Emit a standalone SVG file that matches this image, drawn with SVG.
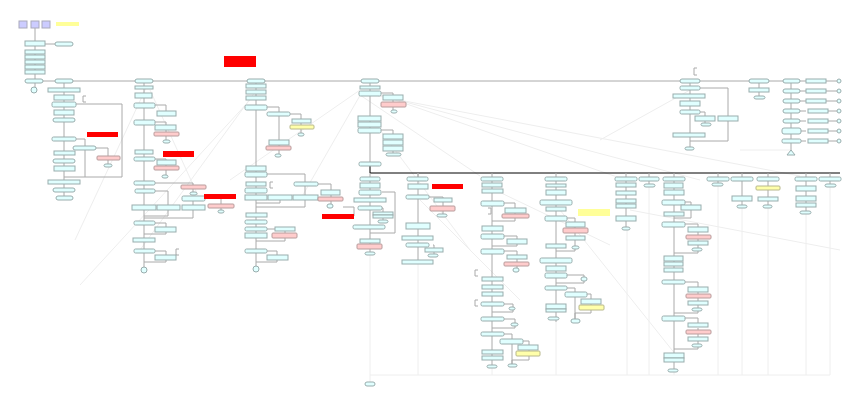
<svg xmlns="http://www.w3.org/2000/svg" width="863" height="419" viewBox="0 0 863 419">
<style>
rect,polygon,circle{stroke-width:1}
.b{fill:#e0ffff;stroke:#9aadad}
.o{fill:#e0ffff;stroke:#9aadad;rx:2px}
.h{fill:#e0ffff;stroke:#9aadad;rx:1.5px}
.p{fill:#ffcccc;stroke:#b89c9c;rx:1px}
.y{fill:#ffffaa;stroke:#b8b88c;rx:1px}
.r{fill:#ff0000}
.s{fill:#ccccff;stroke:#aab}
.c path{fill:none;stroke:#aaaaaa;stroke-width:1}
.c .f{stroke:#eeeeee}
.c .k{stroke:#000000}
</style>
<rect width="863" height="419" fill="#ffffff"/>
<g class="c">
<path class="f" d="M360,90L230,180M362,92L300,200M372,92L620,178M375,94L700,180M378,96L800,176M255,92L140,250M250,100L80,285M146,88L75,240M150,90L200,200M360,95L480,176M495,190L610,245M560,210L680,360M420,200L520,300M690,90L600,140M790,150L740,150M630,210L840,250M380,130L470,250"/>
<path class="f" d="M418,264V375M492,368V375M556,322V375M627,230V375M649,187V375M674,372V375M718,186V375M742,208V375M768,208V375M806,214V375M830,187V375M370,255V375H830M370,375V382"/>
<path d="M35,28V41M35,46V79M45,44H55M35,83V87M43,81H783"/>
<path d="M64,83V196M76,104H122V177H64M76,139H85V146M85,150V177M96,148H108V156M108,160V164"/>
<path d="M144,83V267M155,105H166V111M155,122H166V125M166,130V132M166,136V140M155,159H166V160M166,165V166M166,170V175M155,183H193V185M193,189V192M155,191H168V205M205,198H221V204M221,208V210M193,201V205M168,210V216H144M193,210V218H144M155,223H166V227M166,232V234H144M155,251H166V255M166,260V262H144"/>
<path d="M256,83V266M267,107H279V112M290,114H301V119M301,123V125M301,129V133M279,116V140M279,145V146M279,150V154M267,174H305V182M318,184H331V190M331,195V197M331,201V204M305,186V195M280,200V203H256M305,200V207H256M267,229H285V227M285,231V233M285,238V241H256M267,251H277V255M277,260V262H256M343,207H354V216"/>
<path d="M370,83V166M381,93H393V95M393,100V102M393,107V110M381,130H393V134M393,151V153"/>
<path class="k" d="M370,166V173H840"/>
<path d="M370,173V252M382,192H395V233H370M382,208H383V212M383,218V220M418,173V264M429,197H443V198M443,202V206M443,211V214M433,245H434V248M434,252V254M418,173V177"/>
<path d="M492,173V368M504,203H515V208M515,213V214M515,218V221H492M504,236H517V239M517,244V246H492M504,251H517V255M517,259V262M517,266V268M504,304H513V307M513,310V312H492M504,319H515V323M515,326V328H492M504,334H512V339M523,341H529V345M529,350V351M529,356V360H512V364M512,344V364"/>
<path d="M556,173V322M567,218H575V222M575,227V228M575,233V236M575,240V246M575,249V251H556M567,275H584V277M584,281V283H556M567,288H575V292M587,294H591V299M591,304V305M591,310V313H575V319M575,297V319"/>
<path d="M626,173V227M649,173V184M674,173V369M685,202H691V205M691,210V218H674M685,224H698V227M698,232V248M698,251V253H674M685,282H698V287M698,292V308M698,311V313H674M685,318H698V323M698,328V344M698,347V349H674M718,173V183M742,173V205M768,173V205M806,173V211M830,173V184"/>
<path d="M690,83V147M700,88H728V141H690M700,112H705V116M705,121V123M759,83V96M791,83V151M800,91H806M800,101H806M800,111H806M800,121H806M800,131H806M800,141H806M826,81H837M826,91H837M826,101H837M826,111H837M826,121H837M826,131H837M826,141H837M783,81H806"/>
<path d="M86,96H83V102H86M179,249H176V255H179M273,182H270V188H273M697,68H694V75H697M488,208H491V214H488M478,300H475V306H478M478,270H475V276H478"/>
</g>
<g id="top">
<rect class="s" x="19" y="21" width="8" height="7"/><rect class="s" x="31" y="21" width="8" height="7"/><rect class="s" x="42" y="21" width="8" height="7"/>
<rect x="56" y="22" width="23" height="4" fill="#ffff99"/>
<rect class="r" x="224" y="56" width="32" height="11"/>
</g>
<g id="stack">
<rect class="b" x="25" y="41" width="20" height="5"/><rect class="o" x="55" y="42" width="18" height="4"/>
<rect class="b" x="25" y="50" width="20" height="4"/><rect class="b" x="25" y="55" width="20" height="4"/><rect class="b" x="25" y="60" width="20" height="4"/><rect class="b" x="25" y="65" width="20" height="4"/><rect class="b" x="25" y="70" width="20" height="4"/>
<rect class="o" x="25" y="79" width="18" height="4"/><circle class="b" cx="34" cy="90" r="3"/>
</g>
<g id="col1">
<rect class="o" x="55" y="79" width="18" height="4"/><rect class="b" x="48" y="88" width="32" height="4"/><rect class="b" x="54" y="95" width="20" height="5"/><rect class="h" x="52" y="102" width="24" height="5"/><rect class="b" x="54" y="110" width="20" height="5"/><rect class="o" x="53" y="118" width="22" height="4"/><rect class="h" x="52" y="137" width="24" height="4"/><rect class="o" x="73" y="146" width="23" height="4"/><rect class="b" x="54" y="151" width="21" height="4"/><rect class="o" x="53" y="159" width="22" height="4"/><rect class="b" x="54" y="166" width="21" height="5"/><rect class="b" x="48" y="180" width="32" height="4"/><rect class="o" x="53" y="188" width="22" height="4"/><rect class="o" x="56" y="196" width="17" height="4"/>
<rect class="r" x="87" y="132" width="31" height="5"/><rect class="p" x="97" y="156" width="23" height="4"/><rect class="o" x="104" y="164" width="8" height="3"/>
</g>
<g id="col2">
<rect class="o" x="135" y="79" width="18" height="4"/><rect class="b" x="135" y="86" width="18" height="3"/><rect class="b" x="135" y="93" width="17" height="5"/><rect class="h" x="134" y="103" width="21" height="5"/><rect class="b" x="157" y="111" width="19" height="5"/><rect class="h" x="134" y="120" width="21" height="5"/><rect class="b" x="155" y="125" width="21" height="5"/><rect class="p" x="154" y="132" width="25" height="4"/><rect class="o" x="163" y="140" width="7" height="3"/><rect class="b" x="135" y="150" width="18" height="4"/><rect class="h" x="134" y="157" width="21" height="4"/><rect class="r" x="163" y="151" width="31" height="6"/><rect class="b" x="157" y="160" width="19" height="5"/><rect class="p" x="154" y="166" width="25" height="4"/><rect class="o" x="162" y="175" width="6" height="3"/><rect class="h" x="134" y="181" width="21" height="4"/><rect class="p" x="181" y="185" width="25" height="4"/><rect class="o" x="190" y="192" width="7" height="3"/><rect class="h" x="135" y="189" width="20" height="4"/><rect class="h" x="182" y="196" width="23" height="5"/><rect class="b" x="132" y="205" width="24" height="5"/><rect class="b" x="157" y="205" width="23" height="5"/><rect class="b" x="182" y="205" width="23" height="5"/><rect class="r" x="204" y="194" width="32" height="5"/><rect class="p" x="208" y="204" width="26" height="4"/><rect class="o" x="218" y="210" width="6" height="3"/><rect class="h" x="134" y="221" width="21" height="4"/><rect class="b" x="155" y="227" width="21" height="5"/><rect class="b" x="133" y="238" width="22" height="4"/><rect class="h" x="134" y="249" width="21" height="4"/><rect class="b" x="155" y="255" width="21" height="5"/><circle class="b" cx="144" cy="270" r="3"/>
</g>
<g id="col3">
<rect class="o" x="247" y="79" width="18" height="4"/><rect class="b" x="246" y="84" width="20" height="4"/><rect class="b" x="246" y="90" width="20" height="4"/><rect class="b" x="246" y="96" width="20" height="4"/><rect class="h" x="245" y="105" width="22" height="5"/><rect class="h" x="267" y="112" width="23" height="4"/><rect class="b" x="292" y="119" width="19" height="4"/><rect class="y" x="290" y="125" width="24" height="4"/><rect class="o" x="298" y="133" width="6" height="3"/><rect class="b" x="269" y="140" width="20" height="5"/><rect class="p" x="266" y="146" width="25" height="4"/><rect class="o" x="275" y="154" width="6" height="3"/><rect class="b" x="246" y="166" width="20" height="5"/><rect class="h" x="245" y="172" width="22" height="5"/><rect class="b" x="246" y="182" width="20" height="4"/><rect class="h" x="245" y="188" width="22" height="5"/><rect class="b" x="245" y="195" width="22" height="5"/><rect class="b" x="268" y="195" width="24" height="5"/><rect class="b" x="293" y="195" width="25" height="5"/><rect class="h" x="294" y="182" width="24" height="4"/><rect class="b" x="321" y="190" width="19" height="5"/><rect class="p" x="318" y="197" width="25" height="4"/><rect class="o" x="327" y="204" width="6" height="4"/><rect class="r" x="322" y="214" width="32" height="5"/><rect class="b" x="246" y="213" width="21" height="4"/><rect class="h" x="245" y="220" width="22" height="4"/><rect class="h" x="245" y="227" width="22" height="4"/><rect class="b" x="245" y="233" width="22" height="5"/><rect class="b" x="275" y="227" width="20" height="4"/><rect class="p" x="272" y="233" width="25" height="5"/><rect class="h" x="245" y="249" width="22" height="4"/><rect class="b" x="267" y="255" width="21" height="5"/><circle class="b" cx="256" cy="269" r="3"/>
</g>
<g id="col4">
<rect class="o" x="361" y="79" width="18" height="4"/><rect class="b" x="360" y="86" width="20" height="3"/><rect class="h" x="359" y="91" width="22" height="5"/><rect class="b" x="383" y="95" width="20" height="5"/><rect class="p" x="381" y="102" width="25" height="5"/><rect class="o" x="391" y="110" width="6" height="3"/><rect class="b" x="358" y="116" width="23" height="5"/><rect class="b" x="358" y="122" width="23" height="5"/><rect class="h" x="358" y="128" width="23" height="5"/><rect class="b" x="383" y="134" width="20" height="5"/><rect class="b" x="383" y="140" width="20" height="5"/><rect class="b" x="383" y="146" width="20" height="5"/><rect class="o" x="386" y="153" width="15" height="3"/><rect class="h" x="359" y="162" width="22" height="4"/>
</g>
<g id="col5">
<rect class="h" x="360" y="177" width="20" height="4"/><rect class="b" x="360" y="183" width="20" height="5"/><rect class="h" x="359" y="190" width="22" height="5"/><rect class="b" x="354" y="198" width="32" height="4"/><rect class="h" x="358" y="206" width="24" height="4"/><rect class="b" x="373" y="212" width="20" height="3"/><rect class="b" x="373" y="215" width="20" height="3"/><rect class="o" x="378" y="220" width="10" height="3"/><rect class="h" x="353" y="225" width="32" height="4"/><rect class="b" x="360" y="239" width="20" height="4"/><rect class="p" x="357" y="244" width="25" height="5"/><rect class="o" x="365" y="252" width="10" height="3"/>
</g>
<g id="col6">
<rect class="h" x="407" y="177" width="21" height="4"/><rect class="b" x="408" y="184" width="20" height="5"/><rect class="h" x="406" y="195" width="23" height="4"/><rect class="b" x="406" y="223" width="24" height="6"/><rect class="b" x="402" y="236" width="31" height="4"/><rect class="h" x="406" y="243" width="23" height="4"/><rect class="b" x="425" y="248" width="18" height="4"/><rect class="o" x="428" y="254" width="10" height="3"/><rect class="b" x="402" y="260" width="31" height="4"/><rect class="r" x="432" y="184" width="31" height="5"/><rect class="b" x="434" y="198" width="18" height="4"/><rect class="p" x="430" y="206" width="25" height="5"/><rect class="o" x="437" y="214" width="10" height="3"/>
</g>
<g id="col7">
<rect class="h" x="481" y="177" width="22" height="4"/><rect class="b" x="482" y="183" width="20" height="4"/><rect class="b" x="482" y="189" width="21" height="4"/><rect class="h" x="481" y="201" width="23" height="5"/><rect class="b" x="505" y="208" width="21" height="5"/><rect class="p" x="502" y="214" width="27" height="4"/><rect class="b" x="482" y="226" width="21" height="5"/><rect class="h" x="481" y="234" width="23" height="5"/><rect class="b" x="507" y="239" width="20" height="5"/><rect class="h" x="481" y="249" width="23" height="5"/><rect class="b" x="507" y="255" width="20" height="4"/><rect class="p" x="504" y="262" width="25" height="4"/><rect class="o" x="513" y="268" width="6" height="4"/><rect class="b" x="482" y="277" width="21" height="4"/><rect class="b" x="482" y="285" width="21" height="4"/><rect class="b" x="482" y="292" width="21" height="4"/><rect class="h" x="481" y="302" width="23" height="4"/><rect class="o" x="509" y="307" width="6" height="3"/><rect class="h" x="481" y="317" width="23" height="4"/><rect class="o" x="511" y="323" width="7" height="3"/><rect class="h" x="481" y="332" width="23" height="4"/><rect class="h" x="500" y="339" width="23" height="5"/><rect class="b" x="518" y="345" width="20" height="5"/><rect class="y" x="516" y="351" width="24" height="5"/><rect class="b" x="482" y="350" width="21" height="4"/><rect class="b" x="482" y="356" width="21" height="4"/><rect class="o" x="487" y="365" width="10" height="3"/><rect class="o" x="508" y="364" width="9" height="3"/>
</g>
<g id="col8">
<rect class="h" x="545" y="177" width="22" height="4"/><rect class="b" x="546" y="184" width="20" height="3"/><rect class="b" x="546" y="190" width="20" height="5"/><rect class="h" x="540" y="200" width="32" height="5"/><rect class="b" x="546" y="207" width="20" height="4"/><rect class="h" x="545" y="216" width="22" height="5"/><rect class="b" x="566" y="222" width="19" height="5"/><rect class="p" x="563" y="228" width="25" height="5"/><rect class="b" x="566" y="236" width="19" height="4"/><rect class="o" x="572" y="246" width="7" height="3"/><rect class="b" x="546" y="244" width="20" height="4"/><rect class="h" x="540" y="258" width="32" height="5"/><rect class="b" x="546" y="266" width="20" height="5"/><rect class="h" x="545" y="273" width="22" height="5"/><rect class="o" x="581" y="277" width="6" height="4"/><rect class="h" x="545" y="286" width="22" height="4"/><rect class="h" x="565" y="292" width="22" height="5"/><rect class="b" x="581" y="299" width="20" height="5"/><rect class="y" x="579" y="305" width="25" height="5"/><rect class="b" x="546" y="304" width="20" height="5"/><rect class="b" x="546" y="309" width="20" height="3"/><rect class="o" x="548" y="317" width="11" height="3"/><rect class="o" x="571" y="319" width="9" height="4"/><rect x="578" y="209" width="32" height="7" fill="#ffff99"/>
</g>
<g id="col9">
<rect class="h" x="615" y="177" width="22" height="4"/><rect class="b" x="616" y="183" width="20" height="4"/><rect class="b" x="616" y="191" width="20" height="4"/><rect class="b" x="616" y="199" width="20" height="4"/><rect class="b" x="616" y="204" width="20" height="4"/><rect class="b" x="616" y="216" width="20" height="5"/><rect class="o" x="622" y="227" width="8" height="3"/>
<rect class="h" x="639" y="177" width="20" height="4"/><rect class="o" x="644" y="184" width="11" height="3"/>
</g>
<g id="col10">
<rect class="h" x="663" y="177" width="22" height="4"/><rect class="b" x="664" y="183" width="19" height="5"/><rect class="b" x="664" y="190" width="20" height="5"/><rect class="h" x="662" y="200" width="23" height="5"/><rect class="b" x="681" y="205" width="20" height="5"/><rect class="b" x="664" y="212" width="20" height="4"/><rect class="h" x="662" y="222" width="23" height="5"/><rect class="b" x="688" y="227" width="20" height="5"/><rect class="p" x="686" y="235" width="25" height="4"/><rect class="b" x="688" y="241" width="20" height="4"/><rect class="o" x="692" y="248" width="10" height="3"/><rect class="b" x="664" y="256" width="19" height="5"/><rect class="b" x="664" y="262" width="19" height="4"/><rect class="b" x="664" y="268" width="19" height="4"/><rect class="h" x="662" y="280" width="23" height="4"/><rect class="b" x="688" y="287" width="20" height="5"/><rect class="p" x="686" y="294" width="25" height="4"/><rect class="b" x="688" y="301" width="20" height="4"/><rect class="o" x="692" y="308" width="10" height="3"/><rect class="h" x="662" y="316" width="23" height="5"/><rect class="b" x="688" y="323" width="20" height="4"/><rect class="p" x="686" y="330" width="25" height="4"/><rect class="b" x="688" y="337" width="20" height="4"/><rect class="o" x="692" y="344" width="10" height="3"/><rect class="b" x="664" y="353" width="20" height="5"/><rect class="b" x="664" y="358" width="20" height="4"/><rect class="o" x="668" y="369" width="10" height="3"/>
</g>
<g id="col11">
<rect class="h" x="707" y="177" width="22" height="4"/><rect class="o" x="712" y="183" width="11" height="3"/>
<rect class="h" x="731" y="177" width="22" height="4"/><rect class="b" x="732" y="196" width="20" height="5"/><rect class="o" x="737" y="205" width="10" height="3"/>
<rect class="h" x="757" y="177" width="22" height="4"/><rect class="y" x="756" y="186" width="24" height="4"/><rect class="b" x="758" y="197" width="20" height="4"/><rect class="o" x="763" y="205" width="9" height="3"/>
<rect class="h" x="795" y="177" width="22" height="4"/><rect class="b" x="796" y="186" width="20" height="5"/><rect class="b" x="796" y="196" width="20" height="5"/><rect class="b" x="796" y="203" width="20" height="4"/><rect class="o" x="800" y="211" width="11" height="3"/>
<rect class="h" x="819" y="177" width="22" height="4"/><rect class="o" x="825" y="184" width="11" height="3"/>
<rect class="o" x="365" y="382" width="10" height="4"/>
</g>
<g id="col12">
<rect class="o" x="680" y="79" width="20" height="4"/><rect class="h" x="680" y="86" width="20" height="4"/><rect class="b" x="673" y="94" width="32" height="4"/><rect class="b" x="680" y="101" width="20" height="5"/><rect class="h" x="680" y="110" width="20" height="4"/><rect class="b" x="695" y="116" width="20" height="5"/><rect class="o" x="701" y="123" width="10" height="3"/><rect class="b" x="718" y="116" width="20" height="5"/><rect class="b" x="673" y="133" width="32" height="4"/><rect class="o" x="685" y="147" width="9" height="3"/>
<rect class="o" x="749" y="79" width="20" height="4"/><rect class="b" x="749" y="88" width="20" height="4"/><rect class="o" x="754" y="96" width="11" height="3"/>
</g>
<g id="col13">
<rect class="o" x="783" y="79" width="17" height="4"/><rect class="o" x="783" y="89" width="17" height="4"/><rect class="o" x="783" y="99" width="17" height="4"/><rect class="o" x="783" y="109" width="17" height="4"/><rect class="o" x="783" y="119" width="17" height="4"/><rect class="o" x="782" y="128" width="19" height="6"/><rect class="h" x="782" y="139" width="19" height="4"/>
<rect class="b" x="806" y="79" width="20" height="4"/><rect class="b" x="806" y="89" width="20" height="4"/><rect class="b" x="806" y="99" width="20" height="4"/><rect class="b" x="808" y="109" width="20" height="4"/><rect class="b" x="808" y="119" width="20" height="4"/><rect class="b" x="808" y="129" width="20" height="4"/><rect class="b" x="808" y="139" width="20" height="4"/>
<circle class="b" cx="839" cy="81" r="2"/><circle class="b" cx="839" cy="91" r="2"/><circle class="b" cx="839" cy="101" r="2"/><circle class="b" cx="839" cy="111" r="2"/><circle class="b" cx="839" cy="121" r="2"/><circle class="b" cx="839" cy="131" r="2"/><circle class="b" cx="839" cy="141" r="2"/>
<polygon class="b" points="787,155 791,150 795,155"/>
</g>
</svg>
